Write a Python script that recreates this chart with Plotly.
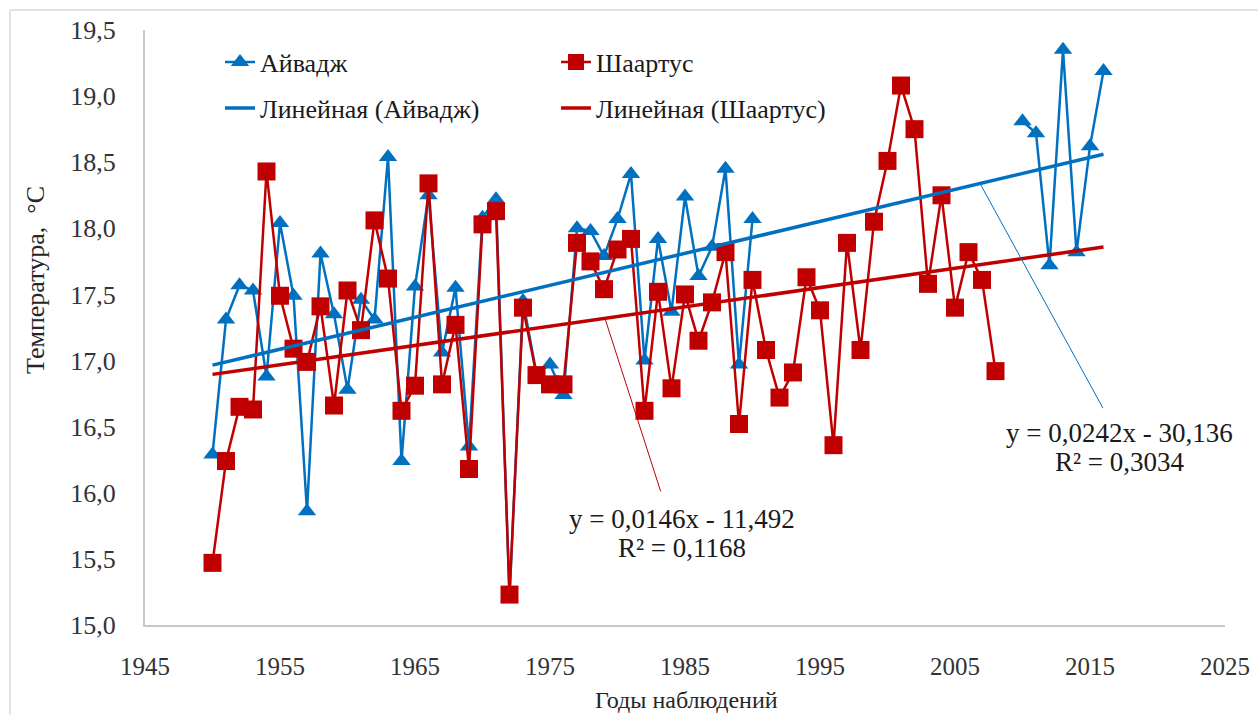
import numpy as np
import plotly.graph_objects as go

# ---------------- data ----------------
years_all = list(range(1950, 2017))

aivadzh_years = list(range(1950, 1991)) + list(range(2010, 2017))
aivadzh_vals = [16.29, 17.31, 17.57, 17.53, 16.88, 18.04, 17.49, 15.86, 17.81, 17.35,
                16.78, 17.46, 17.31, 18.54, 16.24, 17.56, 18.25, 17.06, 17.55, 16.35,
                18.08, 18.22, 15.21, 17.45, 16.90, 16.97, 16.74, 18.00, 17.98, 17.79,
                18.07, 18.41, 17.00, 17.92, 17.37, 18.24, 17.64, 17.86, 18.45, 16.97,
                18.07,
                18.81, 18.72, 17.72, 19.35, 17.82, 18.62, 19.19]

shaartus_years = list(range(1950, 2009))
shaartus_vals = [15.47, 16.24, 16.65, 16.63, 18.43, 17.49, 17.09, 16.99, 17.41, 16.66,
                 17.53, 17.23, 18.06, 17.62, 16.62, 16.81, 18.34, 16.82, 17.27, 16.18,
                 18.03, 18.13, 15.23, 17.40, 16.89, 16.82, 16.82, 17.89, 17.75, 17.54,
                 17.84, 17.92, 16.62, 17.52, 16.79, 17.50, 17.15, 17.44, 17.82, 16.52,
                 17.61, 17.08, 16.72, 16.91, 17.63, 17.38, 16.36, 17.89, 17.08, 18.05,
                 18.51, 19.08, 18.75, 17.58, 18.25, 17.40, 17.82, 17.61, 16.92]

eq_aivadzh = ["y = 0,0242x - 30,136", "R² = 0,3034"]
eq_shaartus = ["y = 0,0146x - 11,492", "R² = 0,1168"]

x_ticks = [1945, 1955, 1965, 1975, 1985, 1995, 2005, 2015, 2025]

BLUE = "#0070C0"
RED = "#C00000"
FONT = "Liberation Serif"

# series with gap (None) for missing years
a_map = dict(zip(aivadzh_years, aivadzh_vals))
a_y = [a_map.get(yr) for yr in years_all]

# linear trends
ka, ba = np.polyfit(aivadzh_years, aivadzh_vals, 1)
ks, bs = np.polyfit(shaartus_years, shaartus_vals, 1)
trend_x = [years_all[0], years_all[-1]]
trend_a = [ka * x + ba for x in trend_x]
trend_s = [ks * x + bs for x in trend_x]

fig = go.Figure()
fig.add_trace(go.Scatter(
    x=years_all, y=a_y, mode="lines+markers", name="Айвадж",
    line=dict(color=BLUE, width=2.5),
    marker=dict(symbol="triangle-up", size=16, color=BLUE),
    connectgaps=False, legend="legend"))
fig.add_trace(go.Scatter(
    x=shaartus_years, y=shaartus_vals, mode="lines+markers", name="Шаартус",
    line=dict(color=RED, width=2.5),
    marker=dict(symbol="square", size=18, color=RED),
    legend="legend2"))
fig.add_trace(go.Scatter(
    x=trend_x, y=trend_a, mode="lines", name="Линейная (Айвадж)",
    line=dict(color=BLUE, width=3.5), legend="legend3"))
fig.add_trace(go.Scatter(
    x=trend_x, y=trend_s, mode="lines", name="Линейная (Шаартус)",
    line=dict(color=RED, width=3.5), legend="legend4"))

W, H = 1258, 715
L, R, T, B = 145, 33, 30, 90
pw, ph = W - L - R, H - T - B


def px(xp):
    return (xp - L) / pw


def py(yp):
    return (H - B - yp) / ph


leg_font = dict(family=FONT, size=26, color="#1a1a1a")


def leg(xp, yp):
    return dict(x=px(xp), y=py(yp), xanchor="left", yanchor="middle",
                bgcolor="rgba(0,0,0,0)", font=leg_font, itemwidth=30)


# leader lines for the equation labels (data coordinates)
shapes = [
    dict(type="line", xref="x", yref="y", x0=1979.1, y0=17.31, x1=1983.2, y1=16.01,
         line=dict(color=RED, width=1)),
    dict(type="line", xref="x", yref="y", x0=2006.85, y0=18.34, x1=2015.96, y1=16.64,
         line=dict(color=BLUE, width=1)),
    # chart-area border (left & top)
    dict(type="line", xref="paper", yref="paper", x0=px(10), y0=py(10), x1=px(10), y1=py(715),
         line=dict(color="#D9D9D9", width=1.5)),
    dict(type="line", xref="paper", yref="paper", x0=px(10), y0=py(10), x1=px(1258), y1=py(10),
         line=dict(color="#D9D9D9", width=1.5)),
]

eq_font = dict(family=FONT, size=27, color="#1a1a1a")
annotations = [
    dict(x=1984.78, y=15.80, xref="x", yref="y", text=eq_shaartus[0], showarrow=False, font=eq_font),
    dict(x=1984.78, y=15.58, xref="x", yref="y", text=eq_shaartus[1], showarrow=False, font=eq_font),
    dict(x=2017.22, y=16.45, xref="x", yref="y", text=eq_aivadzh[0], showarrow=False, font=eq_font),
    dict(x=2017.22, y=16.23, xref="x", yref="y", text=eq_aivadzh[1], showarrow=False, font=eq_font),
    # axis titles
    dict(x=px(686), y=py(700), xref="paper", yref="paper", text="Годы наблюдений",
         showarrow=False, xanchor="center", yanchor="middle",
         font=dict(family=FONT, size=24, color="#262626")),
    dict(x=px(35), y=py(280), xref="paper", yref="paper", text="Температура,  °С",
         showarrow=False, xanchor="center", yanchor="middle", textangle=-90,
         font=dict(family=FONT, size=26, color="#262626")),
]

fig.update_layout(
    width=W, height=H,
    margin=dict(l=L, r=R, t=T, b=B),
    paper_bgcolor="white", plot_bgcolor="white",
    separators=", ",
    font=dict(family=FONT, size=22, color="#262626"),
    showlegend=True,
    legend=leg(220, 62),
    legend2=leg(556, 62),
    legend3=leg(220, 108),
    legend4=leg(556, 108),
    shapes=shapes,
    annotations=annotations,
    xaxis=dict(range=[1945, 2025], tickvals=x_ticks, ticktext=[str(v) for v in x_ticks],
               showgrid=False, zeroline=False, showline=True, linecolor="#C8C8C8", linewidth=2,
               ticks="", ticklabelstandoff=18, automargin=False,
               tickfont=dict(family=FONT, size=25, color="#333333")),
    yaxis=dict(range=[15, 19.5], dtick=0.5, tick0=15, tickformat=".1f",
               showgrid=False, zeroline=False, showline=True, linecolor="#C8C8C8", linewidth=2,
               ticks="", ticklabelstandoff=22, automargin=False,
               tickfont=dict(family=FONT, size=26, color="#333333")),
)

fig.write_html("out.html")
